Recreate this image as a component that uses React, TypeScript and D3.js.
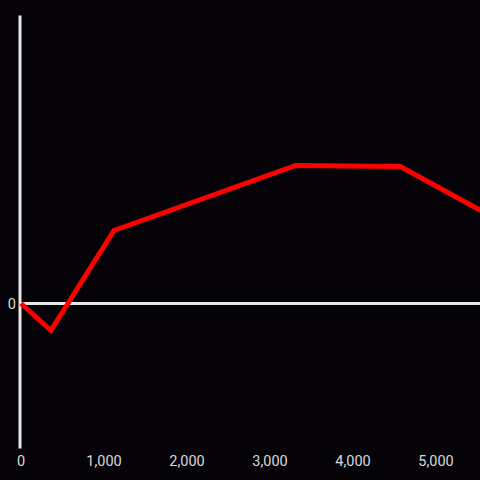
import React from "react";
import * as d3 from "d3";

const xValues = [0, 360, 1120, 3310, 4570, 5540];
const yValues = [0, -27, 73, 138, 137, 93];
const xTicks = [0, 1000, 2000, 3000, 4000, 5000];
const yTicks = [0];

const W = 480;
const H = 480;

export default function App() {
  const x = d3.scaleLinear().domain([0, 5000]).range([21, 436]);
  const y = d3.scaleLinear().domain([-145, 288]).range([448.5, 15.5]);
  const pts = xValues.map((v, i) => [v, yValues[i]] as [number, number]);
  const line = d3
    .line<[number, number]>()
    .x((d) => x(d[0]))
    .y((d) => y(d[1]));
  const font = "Roboto, 'Noto Sans', sans-serif";
  return (
    <div style={{ position: "fixed", left: 0, top: 0, width: W, height: H }}>
      <svg width={W} height={H} style={{ display: "block" }}>
        <rect x={0} y={0} width={W} height={H} fill="#050307" />
        <defs>
          <clipPath id="plot">
            <rect x={0} y={0} width={W} height={H} />
          </clipPath>
        </defs>
        <line x1={x(0) - 1} x2={x(0) - 1} y1={y(288)} y2={y(-145)} stroke="#e6e6e6" strokeWidth={3} />
        <line x1={x(0) - 1} x2={W} y1={y(0)} y2={y(0)} stroke="#e6e6e6" strokeWidth={3} />
        {xTicks.map((t) => (
          <text
            key={t}
            x={x(t)}
            y={466}
            textAnchor="middle"
            fontFamily={font}
            fontSize={14.5}
            fill="#d9d9d9"
          >
            {d3.format(",")(t)}
          </text>
        ))}
        {yTicks.map((t) => (
          <text
            key={t}
            x={16}
            y={y(t) + 5}
            textAnchor="end"
            fontFamily={font}
            fontSize={14.5}
            fill="#d9d9d9"
          >
            {t}
          </text>
        ))}
        <path
          d={line(pts) || ""}
          fill="none"
          stroke="#ff0000"
          strokeWidth={5}
          strokeLinejoin="miter"
          clipPath="url(#plot)"
        />
      </svg>
    </div>
  );
}
